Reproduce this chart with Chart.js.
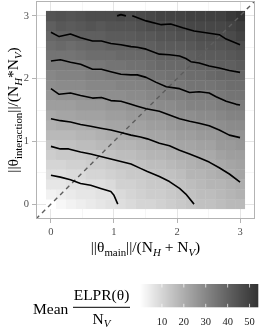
<!DOCTYPE html>
<html>
<head>
<meta charset="utf-8">
<script src="https://cdn.jsdelivr.net/npm/chart.js@4.4.1/dist/chart.umd.min.js"></script>
<style>
  html, body { margin: 0; padding: 0; background: #fff; }
  #wrap { width: 259px; height: 327px; }
</style>
</head>
<body>
<div id="wrap"><canvas id="chart1"></canvas></div>
<script>
// tile centres, same 20 steps on both axes
var gridX = [0, 0.158, 0.316, 0.474, 0.632, 0.789, 0.947, 1.105, 1.263, 1.421, 1.579, 1.737, 1.895, 2.053, 2.211, 2.368, 2.526, 2.684, 2.842, 3];
var gridY = [0, 0.158, 0.316, 0.474, 0.632, 0.789, 0.947, 1.105, 1.263, 1.421, 1.579, 1.737, 1.895, 2.053, 2.211, 2.368, 2.526, 2.684, 2.842, 3];

// mean ELPR/N_V, one row per gridY value (bottom row first)
var fillRows = [
    [0, 2, 3, 4, 5, 6, 7, 8, 9, 10, 10, 11, 12, 13, 14, 15, 15, 16, 17, 17],
    [3, 4, 5, 6, 6, 7, 7, 9, 10, 11, 12, 12, 13, 14, 15, 16, 16, 17, 18, 19],
    [6, 6, 7, 7, 8, 8, 9, 11, 11, 12, 13, 13, 14, 15, 16, 17, 18, 18, 19, 20],
    [8, 8, 9, 9, 10, 10, 11, 12, 13, 13, 14, 15, 15, 16, 18, 18, 19, 20, 21, 22],
    [10, 10, 11, 11, 12, 12, 13, 14, 14, 15, 16, 16, 17, 18, 19, 20, 20, 21, 22, 23],
    [12, 13, 13, 13, 14, 14, 15, 16, 16, 17, 18, 18, 19, 20, 20, 21, 21, 23, 24, 24],
    [14, 15, 15, 16, 16, 17, 17, 18, 18, 19, 20, 20, 21, 22, 22, 23, 23, 25, 25, 26],
    [17, 17, 17, 18, 18, 19, 20, 20, 21, 21, 22, 22, 23, 24, 24, 25, 25, 26, 27, 27],
    [19, 20, 20, 20, 21, 21, 22, 22, 23, 23, 24, 24, 25, 26, 26, 27, 27, 28, 29, 29],
    [21, 22, 22, 23, 23, 23, 24, 24, 25, 25, 26, 26, 27, 28, 28, 29, 29, 30, 31, 31],
    [24, 24, 24, 25, 25, 25, 26, 26, 27, 27, 28, 29, 29, 30, 31, 31, 31, 32, 33, 33],
    [26, 27, 27, 27, 28, 28, 28, 28, 29, 29, 30, 31, 32, 32, 33, 33, 33, 34, 35, 35],
    [28, 29, 29, 29, 30, 30, 30, 31, 31, 31, 32, 33, 34, 34, 35, 35, 35, 36, 37, 37],
    [30, 31, 31, 31, 32, 32, 33, 33, 33, 34, 35, 35, 36, 36, 37, 37, 38, 39, 39, 39],
    [33, 33, 33, 33, 34, 34, 35, 35, 36, 36, 37, 38, 38, 38, 39, 40, 40, 41, 41, 42],
    [35, 35, 35, 36, 37, 37, 37, 38, 38, 38, 39, 40, 40, 40, 41, 42, 42, 42, 43, 44],
    [37, 38, 37, 38, 39, 39, 40, 40, 40, 41, 41, 42, 42, 42, 43, 44, 44, 44, 45, 46],
    [39, 40, 40, 41, 41, 41, 42, 42, 42, 43, 43, 44, 44, 45, 45, 46, 46, 46, 47, 49],
    [41, 43, 42, 43, 44, 43, 44, 44, 44, 45, 46, 46, 46, 47, 48, 48, 48, 48, 49, 51],
    [44, 45, 44, 45, 46, 46, 46, 47, 46, 47, 48, 49, 49, 49, 50, 50, 50, 50, 52, 54]
];

// contour lines, lowest level first (x, y pairs)
var contour1 = [[0, 0.46], [0.15, 0.43], [0.31, 0.39], [0.47, 0.33], [0.63, 0.30], [0.79, 0.25], [0.95, 0.20], [1.0, 0.14], [1.06, 0]];
var contour2 = [[0, 0.92], [0.15, 0.88], [0.28, 0.88], [0.47, 0.83], [0.63, 0.80], [0.79, 0.76], [0.95, 0.72], [1.11, 0.68], [1.27, 0.64], [1.42, 0.57], [1.53, 0.52], [1.72, 0.44], [1.88, 0.36], [2.04, 0.25], [2.14, 0.16], [2.27, 0]];
var contour3 = [[0, 1.36], [0.15, 1.33], [0.31, 1.31], [0.47, 1.27], [0.63, 1.24], [0.79, 1.21], [0.95, 1.18], [1.11, 1.14], [1.27, 1.10], [1.42, 1.07], [1.53, 1.04], [1.72, 0.97], [1.88, 0.93], [2.04, 0.86], [2.20, 0.80], [2.35, 0.74], [2.51, 0.67], [2.67, 0.58], [2.83, 0.48], [3.0, 0.35]];
var contour4 = [[0, 1.84], [0.13, 1.75], [0.31, 1.77], [0.47, 1.73], [0.66, 1.69], [0.80, 1.70], [0.95, 1.65], [1.11, 1.64], [1.27, 1.59], [1.37, 1.56], [1.51, 1.52], [1.72, 1.48], [1.88, 1.42], [2.04, 1.36], [2.20, 1.32], [2.35, 1.29], [2.51, 1.25], [2.67, 1.18], [2.83, 1.10], [3.0, 1.06]];
var contour5 = [[0, 2.28], [0.15, 2.30], [0.31, 2.26], [0.47, 2.23], [0.66, 2.15], [0.80, 2.15], [0.95, 2.11], [1.11, 2.07], [1.27, 2.06], [1.37, 2.06], [1.51, 2.02], [1.67, 1.94], [1.83, 1.87], [2.04, 1.84], [2.20, 1.78], [2.35, 1.79], [2.51, 1.77], [2.62, 1.71], [2.78, 1.64], [2.94, 1.59], [3.0, 1.58]];
var contour6 = [[0, 2.74], [0.13, 2.67], [0.31, 2.71], [0.47, 2.65], [0.66, 2.60], [0.80, 2.60], [0.95, 2.56], [1.11, 2.54], [1.27, 2.51], [1.37, 2.50], [1.51, 2.47], [1.72, 2.39], [1.88, 2.38], [2.04, 2.36], [2.14, 2.32], [2.22, 2.27], [2.35, 2.25], [2.51, 2.20], [2.67, 2.17], [2.83, 2.13], [3.0, 2.10]];
var contour7 = [[1.29, 3.0], [1.51, 2.92], [1.75, 2.86], [1.90, 2.87], [2.09, 2.81], [2.27, 2.76], [2.46, 2.73], [2.67, 2.70], [2.78, 2.63], [3.0, 2.54]];
var contour7b = [[1.05, 3.0], [1.11, 3.02], [1.19, 3.0]];

var axisTicks = [0, 1, 2, 3];
var axisRange = [-0.237, 3.237];
var colorTicks = [10, 20, 30, 40, 50];

var serif = '"Liberation Serif", "DejaVu Serif", serif';

var allFill = [].concat.apply([], fillRows);
var fillMin = Math.min.apply(null, allFill);
var fillMax = Math.max.apply(null, allFill);

// white -> grey20, interpolated in lightness like ggplot does
function grayFor(v) {
    var t = (v - fillMin) / (fillMax - fillMin);
    t = Math.max(0, Math.min(1, t));
    var L = 100 + t * (21.25 - 100);
    var Y = L > 8 ? Math.pow((L + 16) / 116, 3) : L / 903.3;
    var s = Y <= 0.0031308 ? 12.92 * Y : 1.055 * Math.pow(Y, 1 / 2.4) - 0.055;
    var c = Math.round(s * 255);
    return 'rgb(' + c + ',' + c + ',' + c + ')';
}

// text with sub-scripts: [text, scale, drop (em), italic]
function drawMath(ctx, parts, x, y, size, align) {
    function fontOf(p) {
        return (p[3] ? 'italic ' : '') + (size * (p[1] || 1)) + 'px ' + serif;
    }
    var w = 0;
    parts.forEach(function (p) { ctx.font = fontOf(p); w += ctx.measureText(p[0]).width; });
    var cx = align === 'center' ? x - w / 2 : x;
    ctx.textAlign = 'left';
    ctx.textBaseline = 'alphabetic';
    parts.forEach(function (p) {
        ctx.font = fontOf(p);
        ctx.fillText(p[0], cx, y + (p[2] || 0) * size);
        cx += ctx.measureText(p[0]).width;
    });
}

var tilePlugin = {
    id: 'tiles',
    beforeDatasetsDraw: function (chart) {
        var ctx = chart.ctx, xs = chart.scales.x, ys = chart.scales.y;
        var hx = (gridX[1] - gridX[0]) / 2, hy = (gridY[1] - gridY[0]) / 2;
        var last = gridX.length - 1;
        ctx.save();
        fillRows.forEach(function (row, j) {
            row.forEach(function (v, i) {
                var x0 = xs.getPixelForValue(gridX[i] - hx), x1 = xs.getPixelForValue(gridX[i] + hx);
                var y0 = ys.getPixelForValue(gridY[j] + hy), y1 = ys.getPixelForValue(gridY[j] - hy);
                // small overlap so the seams stay faint
                var ox = i < last ? 0.35 : 0, oy = j > 0 ? 0.35 : 0;
                ctx.fillStyle = grayFor(v);
                ctx.fillRect(x0, y0, x1 - x0 + ox, y1 - y0 + oy);
            });
        });
        ctx.restore();
    },
    afterDatasetsDraw: function (chart) {
        var a = chart.chartArea, ctx = chart.ctx;
        ctx.save();
        ctx.strokeStyle = '#b3b3b3';
        ctx.lineWidth = 1;
        ctx.strokeRect(a.left + 0.5, a.top + 0.5, a.right - a.left - 1, a.bottom - a.top - 1);
        ctx.restore();
    }
};

var labelPlugin = {
    id: 'labels',
    afterDraw: function (chart) {
        var ctx = chart.ctx, a = chart.chartArea;
        ctx.save();
        ctx.fillStyle = '#000';

        // axis titles
        drawMath(ctx, [['||θ'], ['main', 0.7, 0.25], ['||/(N'], ['H', 0.7, 0.25, true], [' + N'], ['V', 0.7, 0.25, true], [')']],
            (a.left + a.right) / 2, 252, 15.5, 'center');
        ctx.save();
        ctx.translate(18, (a.top + a.bottom) / 2);
        ctx.rotate(-Math.PI / 2);
        drawMath(ctx, [['||θ'], ['interaction', 0.7, 0.25], ['||/(N'], ['H', 0.7, 0.25, true], ['*N'], ['V', 0.7, 0.25, true], [')']],
            0, 0, 15.5, 'center');
        ctx.restore();

        // legend title
        drawMath(ctx, [['Mean']], 33, 314, 15.5, 'left');
        drawMath(ctx, [['ELPR(θ)']], 101.5, 300, 15.5, 'center');
        ctx.fillRect(73, 306.8, 57, 1);
        drawMath(ctx, [['N'], ['V', 0.7, 0.2, true]], 101.5, 323.5, 15.5, 'center');

        // colour bar
        var bx0 = 140, bx1 = 258.3, by0 = 284, by1 = 307.3;
        var px = function (v) { return bx0 + (v - fillMin) / (fillMax - fillMin) * (bx1 - bx0); };
        for (var x = bx0; x < bx1; x += 1) {
            var v = fillMin + (x + 0.5 - bx0) / (bx1 - bx0) * (fillMax - fillMin);
            ctx.fillStyle = grayFor(v);
            ctx.fillRect(x, by0, Math.min(1, bx1 - x), by1 - by0);
        }
        ctx.strokeStyle = 'rgba(255,255,255,0.9)';
        ctx.lineWidth = 0.8;
        ctx.fillStyle = '#1a1a1a';
        ctx.font = '10.5px ' + serif;
        ctx.textAlign = 'center';
        ctx.textBaseline = 'alphabetic';
        colorTicks.forEach(function (t) {
            var x = px(t);
            ctx.beginPath();
            ctx.moveTo(x, by0); ctx.lineTo(x, by0 + 3.5);
            ctx.moveTo(x, by1); ctx.lineTo(x, by1 - 3.5);
            ctx.stroke();
            ctx.fillText(String(t), x, 324.5);
        });
        ctx.restore();
    }
};

function lineSet(points, color, width, dash) {
    return {
        type: 'scatter',
        data: points.map(function (p) { return { x: p[0], y: p[1] }; }),
        showLine: true,
        borderColor: color,
        borderWidth: width,
        borderDash: dash || [],
        borderJoinStyle: 'round',
        pointRadius: 0,
        pointHoverRadius: 0,
        fill: false
    };
}

function axisOptions(isX) {
    return {
        type: 'linear',
        min: axisRange[0],
        max: axisRange[1],
        afterBuildTicks: function (axis) {
            var t = [];
            axisTicks.forEach(function (v, i) {
                t.push({ value: v });
                if (i < axisTicks.length - 1) t.push({ value: (v + axisTicks[i + 1]) / 2 });
            });
            axis.ticks = t;
        },
        afterFit: function (s) {
            // fixed panel position, labels never reach the panel ends
            if (isX) s.height = 108; else s.width = 36;
            s.paddingTop = 0; s.paddingBottom = 0;
            s.paddingLeft = 0; s.paddingRight = 0;
        },
        ticks: {
            autoSkip: false,
            maxRotation: 0,
            padding: 3,
            color: '#4d4d4d',
            font: { family: serif, size: 10.5 },
            callback: function (v) { return axisTicks.indexOf(v) >= 0 ? String(v) : ''; }
        },
        border: { display: false },
        grid: {
            tickLength: 4,
            color: function (c) { return c.tick && axisTicks.indexOf(c.tick.value) >= 0 ? '#dedede' : '#ececec'; },
            lineWidth: function (c) { return c.tick && axisTicks.indexOf(c.tick.value) >= 0 ? 0.8 : 0.5; },
            tickColor: function (c) { return c.tick && axisTicks.indexOf(c.tick.value) >= 0 ? '#b3b3b3' : 'rgba(0,0,0,0)'; },
            tickWidth: 1
        }
    };
}

document.addEventListener('DOMContentLoaded', function () {
    var ctx1 = document.getElementById('chart1').getContext('2d');
    var chart1 = new Chart(ctx1, {
        type: 'scatter',
        data: {
            datasets: [
                lineSet(contour1, '#000', 1.6),
                lineSet(contour2, '#000', 1.6),
                lineSet(contour3, '#000', 1.6),
                lineSet(contour4, '#000', 1.6),
                lineSet(contour5, '#000', 1.6),
                lineSet(contour6, '#000', 1.6),
                lineSet(contour7, '#000', 1.6),
                lineSet(contour7b, '#000', 1.6),
                lineSet([[axisRange[0], axisRange[0]], [axisRange[1], axisRange[1]]], '#5e5e5e', 1.4, [4.5, 4])
            ]
        },
        options: {
            responsive: true,
            maintainAspectRatio: false,
            animation: false,
            layout: { padding: { top: 1, right: 4, left: 0, bottom: 0 } },
            plugins: { legend: { display: false }, tooltip: { enabled: false } },
            scales: { x: axisOptions(true), y: axisOptions(false) }
        },
        plugins: [tilePlugin, labelPlugin]
    });
});
</script>
</body>
</html>
